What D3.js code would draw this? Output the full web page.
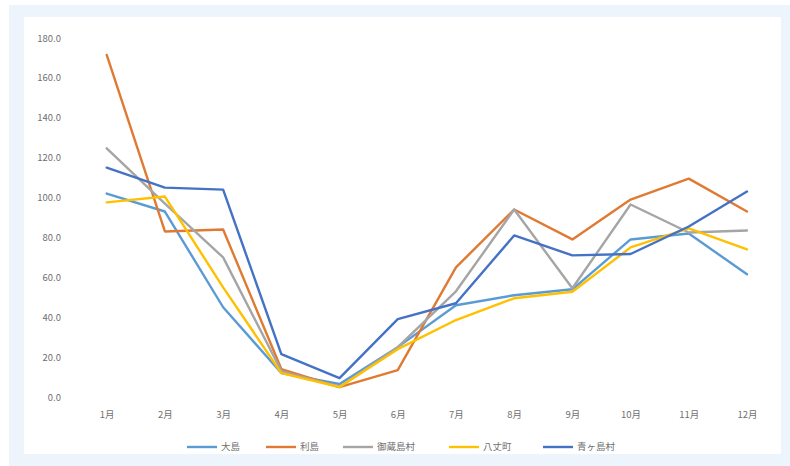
<!DOCTYPE html>
<html>
<head>
<meta charset="utf-8">
<script src="https://cdn.jsdelivr.net/npm/d3@7"></script>
<style>
  html, body { margin: 0; padding: 0; background: #ffffff; }
  svg { display: block; }
</style>
</head>
<body>
<svg id="chart" width="790" height="466"></svg>
<script>
// Monthly index by island municipality
const months = ["1月","2月","3月","4月","5月","6月","7月","8月","9月","10月","11月","12月"];
const seriesNames = ["大島","利島","御蔵島村","八丈町","青ヶ島村"];
const seriesColors = ["#5b9bd5","#e07a32","#a5a5a5","#ffc000","#4472c4"];
const oshima    = [102, 93, 45, 12, 6.5, 25, 46, 51, 54, 79, 82, 61.5];
const toshima   = [171.5, 83, 84, 14, 5, 13.5, 65, 94, 79, 99, 109.5, 93];
const mikurajima = [124.7, 97, 70, 13, 5, 25, 53, 94, 54.5, 96.5, 82.5, 83.5];
const hachijo   = [97.6, 100.5, 55, 12, 5, 24, 38.6, 49.5, 52.8, 75, 84.6, 74];
const aogashima = [115, 105, 104, 21.5, 9.5, 39, 47, 81, 71, 71.7, 85.5, 103];
const yTicks = [0, 20, 40, 60, 80, 100, 120, 140, 160, 180];

const seriesValues = [oshima, toshima, mikurajima, hachijo, aogashima];

const svg = d3.select("#chart");

// frame and panel
svg.append("rect").attr("x", 9).attr("y", 5).attr("width", 781).attr("height", 461).attr("fill", "#edf4fc");
svg.append("rect").attr("x", 24).attr("y", 17).attr("width", 757).attr("height", 437).attr("fill", "#ffffff");

const x = d3.scalePoint().domain(months).range([77.6, 776.1]).padding(0.5);
const y = d3.scaleLinear().domain([0, 180]).range([397, 38]);

// y axis labels
const yAxis = d3.axisLeft(y).tickValues(yTicks).tickFormat(d3.format(".1f")).tickSize(0).tickPadding(0);
const gy = svg.append("g").attr("transform", "translate(61,0)").call(yAxis);
gy.select(".domain").remove();
gy.selectAll("text")
  .attr("fill", "#6f6f6f")
  .style("font-family", "'Noto Sans CJK JP', 'Noto Sans', sans-serif")
  .style("font-size", "9.5px");

// x axis labels
const xAxis = d3.axisBottom(x).tickSize(0).tickPadding(0);
const gx = svg.append("g").attr("transform", "translate(0,411)").call(xAxis);
gx.select(".domain").remove();
gx.selectAll("text")
  .attr("fill", "#6f6f6f")
  .style("font-family", "'Noto Sans CJK JP', 'Noto Sans', sans-serif")
  .style("font-size", "9.5px");

// lines
const line = d3.line()
  .x((d, i) => x(months[i]))
  .y(d => y(d));

seriesValues.forEach((vals, k) => {
  svg.append("path")
    .datum(vals)
    .attr("fill", "none")
    .attr("stroke", seriesColors[k])
    .attr("stroke-width", 2.4)
    .attr("stroke-linejoin", "round")
    .attr("stroke-linecap", "round")
    .attr("d", line);
});

// legend
const legendX = [187, 266, 343, 449, 543];
const legend = svg.append("g").attr("transform", "translate(0,447)");
seriesNames.forEach((name, k) => {
  legend.append("line")
    .attr("x1", legendX[k]).attr("x2", legendX[k] + 30)
    .attr("y1", 0).attr("y2", 0)
    .attr("stroke", seriesColors[k]).attr("stroke-width", 2.4);
  legend.append("text")
    .attr("x", legendX[k] + 34).attr("y", 0)
    .attr("dy", "0.35em")
    .attr("fill", "#6f6f6f")
    .style("font-family", "'Noto Sans CJK JP', 'Noto Sans', sans-serif")
    .style("font-size", "9.5px")
    .text(name);
});
</script>
</body>
</html>
